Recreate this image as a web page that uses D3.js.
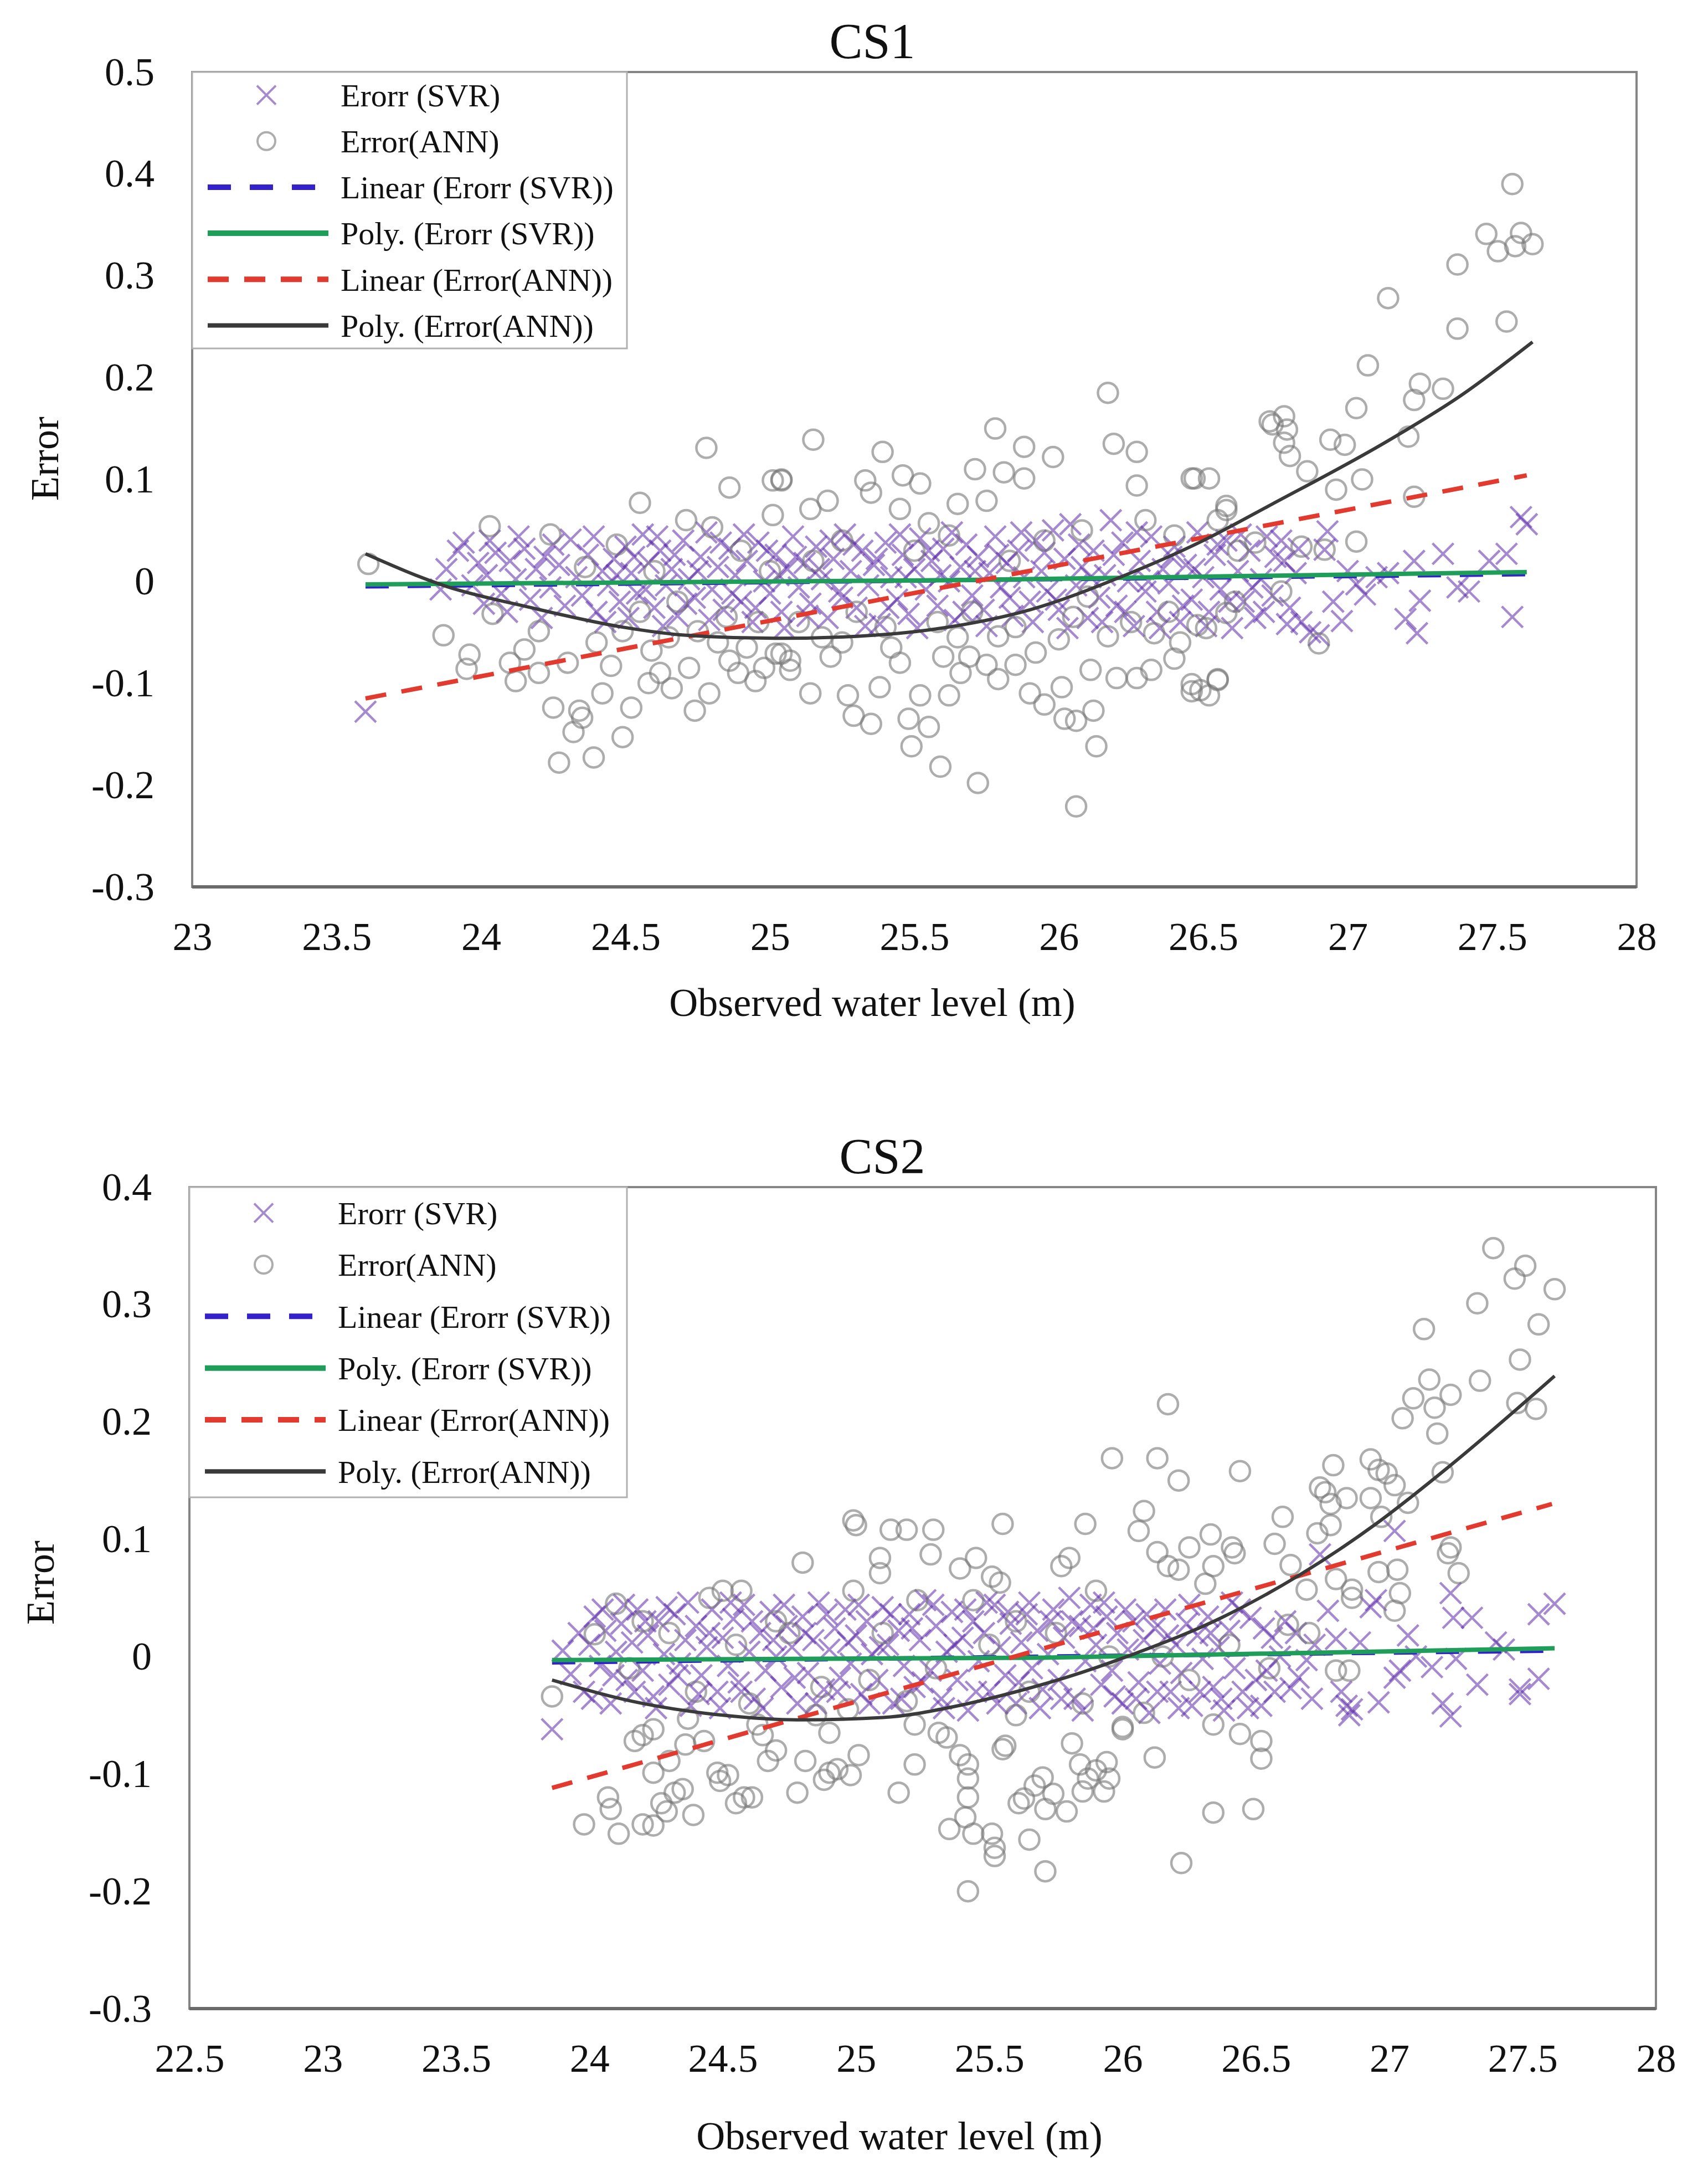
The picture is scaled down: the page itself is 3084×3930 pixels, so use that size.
<!DOCTYPE html>
<html>
<head>
<meta charset="utf-8">
<script src="https://cdn.jsdelivr.net/npm/d3@7"></script>
<style>
  html, body { margin: 0; padding: 0; background: #fff; }
  svg { display: block; font-family: 'Liberation Serif', 'Times New Roman', serif; }
</style>
</head>
<body>
<svg id="chart" width="3084" height="3930"></svg>
<script>
// ---- data ----
const legendLabels = ['Erorr (SVR)', 'Error(ANN)', 'Linear (Erorr (SVR))', 'Poly. (Erorr (SVR))', 'Linear (Error(ANN))', 'Poly. (Error(ANN))'];

const cs1XTicks = [23, 23.5, 24, 24.5, 25, 25.5, 26, 26.5, 27, 27.5, 28];
const cs1YTicks = [-0.3, -0.2, -0.1, 0, 0.1, 0.2, 0.3, 0.4, 0.5];
const cs2XTicks = [22.5, 23, 23.5, 24, 24.5, 25, 25.5, 26, 26.5, 27, 27.5, 28];
const cs2YTicks = [-0.3, -0.2, -0.1, 0, 0.1, 0.2, 0.3, 0.4];

const cs1Svr = [
  [23.60,-0.128],
  [23.86,-0.008],[23.88,0.012],[23.92,0.030],[23.94,0.038],[23.97,-0.004],[23.99,0.018],
  [24.02,0.006],[24.05,0.028],[24.07,-0.012],[24.10,0.020],[24.12,0.002],[24.15,0.032],[24.17,-0.018],[24.19,0.012],
  [24.22,0.024],[24.24,-0.006],[24.27,0.016],[24.29,-0.024],[24.31,0.041],[24.33,0.004],[24.35,-0.014],[24.37,0.026],
  [24.40,-0.030],[24.42,0.010],[24.44,-0.004],[24.46,0.022],[24.48,-0.020],
  [24.50,0.034],[24.52,0.008],[24.54,-0.012],[24.56,0.046],[24.58,0.018],[24.60,-0.026],[24.62,0.030],[24.64,-0.004],
  [24.66,0.012],[24.68,-0.034],[24.70,0.040],[24.72,0.002],[24.74,-0.016],[24.76,0.024],[24.78,0.048],[24.80,-0.008],
  [24.82,0.014],[24.84,-0.028],[24.86,0.032],[24.88,0.006],[24.90,-0.020],[24.92,0.020],[24.94,-0.040],[24.96,0.038],[24.98,0.000],
  [25.00,-0.012],[25.02,0.026],[25.04,-0.030],[25.06,0.012],[25.08,0.044],[25.10,-0.006],[25.12,0.018],[25.14,-0.022],
  [25.16,0.034],[25.18,0.002],[25.20,-0.036],[25.22,0.022],[25.24,-0.010],[25.26,0.046],[25.28,0.010],[25.30,-0.026],
  [25.32,0.030],[25.34,-0.004],[25.36,0.016],[25.38,-0.042],[25.40,0.038],[25.42,0.004],[25.44,-0.018],[25.46,0.026],[25.48,-0.032],
  [25.50,0.012],[25.52,0.042],[25.54,-0.008],[25.56,0.020],[25.58,-0.024],[25.60,0.032],[25.62,0.000],[25.64,-0.038],
  [25.66,0.014],[25.68,0.036],[25.70,-0.014],[25.72,0.024],[25.74,-0.028],[25.76,0.008],[25.78,0.044],[25.80,-0.006],
  [25.82,0.018],[25.84,-0.034],[25.86,0.030],[25.88,0.004],[25.90,-0.020],[25.92,0.040],[25.94,0.010],[25.96,-0.010],[25.98,0.050],
  [26.00,-0.028],[26.02,0.022],[26.04,0.056],[26.06,-0.004],[26.08,0.014],[26.10,-0.036],[26.12,0.030],[26.14,-0.016],
  [26.16,0.006],[26.18,0.060],[26.20,-0.024],[26.22,0.038],[26.24,0.000],[26.26,-0.044],[26.28,0.020],[26.30,-0.010],
  [26.32,0.044],[26.34,-0.030],[26.36,0.012],[26.38,-0.002],[26.40,0.034],[26.42,-0.040],[26.44,0.016],[26.46,-0.018],[26.48,0.048],
  [26.50,0.004],[26.52,-0.030],[26.54,0.026],[26.56,-0.008],[26.58,0.040],[26.60,-0.046],[26.62,0.010],[26.64,-0.020],
  [26.66,0.030],[26.68,-0.036],[26.70,0.002],[26.72,0.044],[26.74,-0.014],[26.77,0.040],[26.78,0.020],[26.80,-0.026],
  [26.82,0.008],[26.84,-0.040],[26.87,-0.050],[26.90,-0.053],[26.92,0.031],[26.93,0.049],[26.95,-0.020],[26.98,-0.039],
  [27.00,0.010],[27.03,-0.003],[27.06,-0.013],[27.10,0.004],[27.14,0.008],[27.20,-0.037],[27.23,0.020],[27.24,-0.051],
  [27.25,-0.019],[27.33,0.027],[27.38,-0.006],[27.42,-0.010],[27.49,0.020],[27.55,0.027],[27.57,-0.035],[27.60,0.063],[27.62,0.056],
  [24.01,-0.022],[24.03,0.040],[24.09,-0.030],[24.13,0.044],[24.21,-0.036],[24.25,0.036],[24.39,0.044],[24.43,-0.040],
  [24.47,0.006],[24.51,-0.036],[24.53,0.024],[24.57,-0.008],[24.61,0.044],[24.63,-0.044],[24.67,0.026],[24.71,-0.022],
  [24.75,0.010],[24.79,-0.038],[24.83,0.038],[24.87,-0.012],[24.91,0.046],[24.95,-0.026],[24.99,0.030],[25.03,0.006],
  [25.05,-0.046],[25.09,0.024],[25.13,-0.034],[25.17,0.012],[25.21,0.040],[25.25,-0.016],[25.29,0.036],[25.33,-0.044],
  [25.37,0.022],[25.41,-0.026],[25.45,0.046],[25.47,0.004],[25.51,-0.046],[25.55,0.030],[25.59,0.006],[25.63,0.048],
  [25.67,-0.030],[25.71,0.010],[25.75,-0.044],[25.79,0.026],[25.83,-0.016],[25.87,0.048],[25.91,-0.040],[25.95,0.028],
  [25.99,-0.018],[26.03,-0.046],[26.07,0.036],[26.11,0.004],[26.15,-0.040],[26.19,0.026],[26.23,-0.030],[26.27,0.048],
  [26.31,0.000],[26.35,-0.046],[26.39,0.024],[26.43,-0.024],[26.47,0.012],[26.51,-0.044],[26.55,0.036],[26.59,-0.020],
  [26.63,0.046],[26.67,-0.006],[26.71,-0.030],[26.75,0.024],[26.79,-0.042],[26.83,0.032]
];

const cs1Ann = [
  [23.61,0.017],[23.87,-0.053],[23.95,-0.086],[23.96,-0.072],[24.03,0.054],[24.04,-0.032],[24.10,-0.080],[24.12,-0.098],
  [24.15,-0.067],[24.20,-0.049],[24.24,0.046],[24.20,-0.090],[24.25,-0.124],[24.27,-0.178],[24.32,-0.148],[24.34,-0.127],
  [24.35,-0.134],[24.39,-0.173],[24.42,-0.110],[24.45,-0.083],[24.49,-0.153],[24.52,-0.124],[24.55,0.077],[24.36,0.014],
  [24.47,0.036],[24.49,-0.049],[24.59,-0.068],[24.62,-0.090],[24.71,0.060],[24.74,-0.127],[24.75,-0.049],[24.79,-0.110],
  [24.80,0.053],[24.86,0.092],[24.86,-0.078],[24.89,-0.090],[24.95,-0.098],[25.01,0.099],[25.04,0.099],[25.01,0.065],
  [25.04,-0.071],[25.07,-0.078],[24.78,0.131],
  [24.30,-0.080],[24.40,-0.060],[24.55,-0.030],[24.65,-0.055],[24.68,-0.020],[24.82,-0.060],[24.85,-0.035],[24.92,-0.065],
  [24.96,-0.040],[24.98,-0.085],[25.00,0.010],[24.60,0.010],[24.90,0.030],[24.72,-0.085],[24.58,-0.100],[24.66,-0.105],
  [25.15,0.139],[25.04,0.100],[25.39,0.127],[25.33,0.099],[25.46,0.104],[25.52,0.096],[25.45,0.071],[25.35,0.087],
  [25.20,0.079],[25.14,0.071],[25.65,0.076],[25.55,0.057],[25.75,0.079],[25.78,0.150],[25.71,0.110],[25.81,0.107],
  [25.88,0.132],[25.88,0.101],[25.98,0.122],[26.17,0.185],[26.19,0.135],[26.27,0.127],[26.27,0.094],[26.46,0.101],
  [26.52,0.101],[26.73,0.157],[26.58,0.074],
  [25.02,-0.071],[25.07,-0.087],[25.14,-0.110],[25.21,-0.074],[25.27,-0.112],[25.29,-0.132],[25.35,-0.140],[25.38,-0.104],
  [25.42,-0.065],[25.48,-0.135],[25.49,-0.162],[25.52,-0.112],[25.55,-0.143],[25.59,-0.182],[25.62,-0.112],[25.66,-0.090],
  [25.69,-0.074],[25.72,-0.198],[25.79,-0.096],[25.85,-0.082],[25.90,-0.110],[25.95,-0.121],[26.01,-0.104],[26.02,-0.135],
  [26.06,-0.137],[26.06,-0.221],[26.12,-0.127],[26.13,-0.162],[26.11,-0.087],[26.20,-0.095],[26.27,-0.095],[26.32,-0.087],
  [26.40,-0.076],[26.46,-0.101],[26.49,-0.107],[26.55,-0.096],[25.79,-0.054],[25.75,-0.082],[25.60,-0.074],[26.00,-0.057],
  [26.17,-0.054],[26.33,-0.051],[26.48,-0.043],
  [25.10,-0.040],[25.18,-0.055],[25.25,-0.060],[25.30,-0.030],[25.40,-0.045],[25.45,-0.080],[25.58,-0.040],[25.65,-0.055],
  [25.70,-0.030],[25.85,-0.045],[25.92,-0.070],[26.05,-0.035],[26.10,-0.015],[26.25,-0.040],[26.38,-0.030],[26.42,-0.060],
  [25.25,0.040],[25.50,0.030],[25.62,0.045],[25.95,0.040],[26.08,0.050],[26.30,0.060],[26.40,0.045],[26.55,0.060],
  [26.62,0.030],[25.15,0.020],[25.83,0.020],
  [27.57,0.390],[27.48,0.341],[27.52,0.324],[27.60,0.342],[27.58,0.329],[27.64,0.331],[27.38,0.311],[27.14,0.278],
  [27.38,0.248],[27.55,0.255],[27.07,0.212],[27.25,0.194],[27.23,0.178],[27.33,0.189],[27.03,0.170],[27.21,0.142],
  [26.78,0.162],[26.74,0.154],[26.79,0.149],[26.78,0.136],[26.80,0.123],[26.94,0.139],[26.99,0.134],[26.86,0.108],
  [27.05,0.100],[26.96,0.090],[27.23,0.083],[27.03,0.039],[26.47,0.101],[26.58,0.070],[26.90,-0.061],[26.55,-0.097],
  [26.52,-0.112],[26.46,-0.108],[26.68,0.038],[26.84,0.034],[26.61,-0.020],[26.58,-0.031],[26.51,-0.046],[26.77,-0.010],[26.92,0.031]
];

const cs1LinSvr = [[23.60,-0.005],[27.62,0.007]];
const cs1PolySvr = [[23.60,-0.003],[25.60,0.001],[27.62,0.009]];
const cs1LinAnn = [[23.60,-0.115],[27.62,0.104]];
const cs1PolyAnn = [
  [23.60,0.027],[23.88,-0.005],[24.16,-0.025],[24.49,-0.045],[24.71,-0.053],[25.02,-0.056],[25.30,-0.054],[25.57,-0.047],
  [25.90,-0.028],[26.23,0.006],[26.50,0.040],[26.74,0.076],[27.14,0.138],[27.39,0.182],[27.64,0.235]
];

const cs2Svr = [
  [23.86,-0.062],
  [23.90,0.005],[23.93,-0.015],[23.96,0.020],[23.98,-0.030],[24.00,0.010],[24.02,0.034],[24.04,-0.008],[24.06,0.022],
  [24.08,-0.040],[24.10,0.004],[24.12,0.028],[24.14,-0.020],[24.16,0.012],[24.18,0.040],[24.20,-0.012],[24.22,0.018],
  [24.24,-0.034],[24.26,0.030],[24.28,0.002],[24.30,-0.024],[24.32,0.036],[24.34,-0.006],[24.36,0.014],[24.38,-0.042],
  [24.40,0.026],[24.42,-0.016],[24.44,0.008],[24.46,0.040],[24.48,-0.030],
  [24.50,0.016],[24.52,-0.008],[24.54,0.032],[24.56,-0.022],[24.58,0.044],[24.60,0.004],[24.62,-0.036],[24.64,0.020],
  [24.66,-0.012],[24.68,0.038],[24.70,0.000],[24.72,-0.026],[24.74,0.026],[24.76,0.008],[24.78,-0.040],[24.80,0.034],
  [24.82,-0.014],[24.84,0.014],[24.86,0.046],[24.88,-0.028],[24.90,0.006],[24.92,0.024],[24.94,-0.018],[24.96,0.040],[24.98,-0.006],
  [25.00,0.018],[25.02,-0.032],[25.04,0.030],[25.06,0.002],[25.08,-0.020],[25.10,0.042],[25.12,0.010],[25.14,-0.040],
  [25.16,0.022],[25.18,-0.008],[25.20,0.036],[25.22,-0.026],[25.24,0.014],[25.26,0.048],[25.28,-0.012],[25.30,0.026],
  [25.32,-0.036],[25.34,0.004],[25.36,0.038],[25.38,-0.020],[25.40,0.016],[25.42,-0.046],[25.44,0.030],[25.46,-0.004],[25.48,0.020],
  [25.50,-0.030],[25.52,0.044],[25.54,0.008],[25.56,-0.016],[25.58,0.028],[25.60,-0.040],[25.62,0.012],[25.64,0.036],
  [25.66,-0.010],[25.68,0.022],[25.70,-0.028],[25.72,0.002],[25.74,0.040],[25.76,-0.020],[25.78,0.016],[25.80,0.050],
  [25.82,-0.036],[25.84,0.026],[25.86,-0.004],[25.88,0.044],[25.90,0.010],[25.92,-0.024],[25.94,0.034],[25.96,-0.012],[25.98,0.020],
  [26.00,-0.040],[26.02,0.006],[26.04,0.030],[26.06,-0.022],[26.08,0.014],[26.10,-0.048],[26.12,0.024],[26.14,-0.006],
  [26.16,0.040],[26.18,-0.030],[26.20,0.010],[26.22,-0.014],[26.24,0.028],[26.26,-0.042],[26.28,0.018],[26.30,-0.002],
  [26.32,0.034],[26.34,-0.026],[26.36,0.008],[26.38,-0.046],[26.40,0.022],[26.42,-0.010],[26.44,0.040],[26.45,-0.030],[26.48,0.033],
  [26.50,-0.020],[26.52,-0.042],[26.54,-0.012],[26.56,0.016],[26.59,0.000],[26.61,0.030],[26.63,-0.027],[26.66,-0.018],
  [26.69,-0.003],[26.72,0.010],[26.74,0.087],[26.77,0.039],[26.80,0.015],[26.82,-0.030],[26.84,-0.042],[26.85,-0.050],
  [26.86,-0.045],[26.89,0.012],[26.93,0.042],[26.95,0.048],[26.96,-0.039],
  [27.02,-0.018],[27.02,0.107],[27.04,-0.012],[27.07,0.018],[27.10,0.000],[27.16,-0.009],[27.20,-0.040],[27.23,-0.051],
  [27.23,0.054],[27.24,0.033],[27.25,-0.002],[27.31,0.033],[27.33,-0.024],[27.40,0.012],[27.43,0.006],[27.49,-0.028],
  [27.49,-0.032],[27.56,-0.019],[27.56,0.036],[27.62,0.045],
  [24.01,-0.036],[24.05,0.040],[24.09,-0.016],[24.13,0.044],[24.17,-0.030],[24.21,0.030],[24.25,-0.044],[24.29,0.042],
  [24.33,-0.016],[24.37,0.046],[24.41,-0.032],[24.45,0.020],[24.49,-0.044],[24.53,0.046],[24.57,-0.030],[24.61,0.030],
  [24.65,-0.044],[24.69,0.014],[24.73,0.044],[24.77,-0.018],[24.81,0.020],[24.85,-0.040],[24.89,0.036],[24.93,-0.030],
  [24.97,0.012],[25.01,0.044],[25.05,-0.040],[25.09,0.008],[25.13,0.036],[25.17,-0.036],[25.21,0.024],[25.25,-0.022],
  [25.29,0.044],[25.33,-0.044],[25.37,0.010],[25.41,0.040],[25.45,-0.030],[25.49,0.046],[25.53,-0.040],[25.57,0.038],
  [25.61,-0.022],[25.65,0.046],[25.69,-0.044],[25.73,0.030],[25.77,-0.036],[25.81,0.030],[25.85,-0.046],[25.89,0.024],
  [25.93,0.046],[25.97,-0.034],[26.01,0.040],[26.05,-0.036],[26.09,0.036],[26.13,-0.030],[26.17,0.018],[26.21,-0.044],
  [26.25,0.044],[26.29,-0.030],[26.33,0.020],[26.37,-0.036],[26.41,0.046],[26.47,-0.044],[26.53,0.024],[26.57,-0.030],
  [26.65,0.020],[26.71,-0.036]
];

const cs2Ann = [
  [23.86,-0.034],[24.10,0.045],[24.02,0.019],[23.98,-0.143],[24.08,-0.130],[24.11,-0.151],[24.07,-0.120],[24.20,-0.143],
  [24.24,-0.144],[24.29,-0.132],[24.32,-0.116],[24.35,-0.113],[24.27,-0.125],[24.39,-0.135],[24.20,-0.067],[24.24,-0.062],
  [24.17,-0.072],[24.30,-0.089],[24.24,-0.099],[24.37,-0.053],[24.36,-0.075],[24.43,-0.072],[24.48,-0.099],[24.49,-0.106],
  [24.52,-0.101],[24.58,-0.120],[24.55,-0.125],[24.61,-0.120],[24.45,0.050],[24.50,0.056],[24.57,0.056],[24.65,-0.067],
  [24.63,-0.058],[24.67,-0.089],[24.70,-0.080],[24.78,-0.116],[24.81,-0.089],[24.80,0.080],[24.90,-0.065],[24.90,-0.099],
  [24.88,-0.105],[24.93,-0.096],[24.98,-0.101],[25.01,-0.084],[24.99,0.116],[25.00,0.112],[25.13,0.108],[25.19,0.108],
  [25.29,0.108],[25.09,0.084],[25.09,0.071],[25.28,0.087],[25.39,0.075],[25.45,0.084],[25.55,0.113],[25.54,0.063],
  [25.51,0.068],[25.86,0.113],[25.77,0.077],[25.80,0.084],[24.99,0.056],[25.23,0.048],[25.44,0.048],[25.90,0.056],
  [25.16,-0.116],[25.22,-0.092],[25.42,-0.092],[25.42,-0.104],[25.42,-0.120],[25.35,-0.147],[25.41,-0.137],[25.44,-0.151],
  [25.42,-0.200],[25.51,-0.151],[25.52,-0.163],[25.52,-0.170],[25.65,-0.156],[25.71,-0.183],[25.61,-0.125],[25.63,-0.121],
  [25.71,-0.130],[25.70,-0.103],[25.67,-0.110],[25.74,-0.117],[25.79,-0.132],[25.85,-0.115],[25.84,-0.092],[25.87,-0.104],
  [25.90,-0.097],[25.93,-0.115],[25.95,-0.104],[25.55,-0.079],[25.56,-0.076],[25.60,-0.050],[25.31,-0.065],[25.34,-0.069],
  [25.39,-0.084],[25.81,-0.074],[26.00,-0.062],[25.19,-0.038],[25.22,-0.058],[24.87,-0.026],[24.97,-0.045],
  [24.15,-0.010],[24.30,0.020],[24.40,-0.030],[24.55,0.010],[24.60,-0.040],[24.75,0.020],[24.85,-0.050],[25.05,-0.020],
  [25.10,0.020],[25.30,-0.010],[25.50,0.010],[25.65,-0.030],[25.75,0.020],[25.85,-0.040],[25.95,0.000],[24.70,0.030],
  [24.20,0.030],[25.60,0.030],
  [27.39,0.348],[27.51,0.333],[27.47,0.322],[27.62,0.313],[27.33,0.301],[27.56,0.283],[27.13,0.279],[27.49,0.253],
  [27.34,0.235],[27.15,0.236],[27.23,0.223],[27.09,0.220],[27.17,0.212],[27.05,0.203],[27.18,0.190],[27.48,0.216],
  [27.55,0.211],[27.20,0.157],[26.17,0.215],[26.13,0.169],[26.21,0.150],[26.44,0.158],[25.96,0.169],[26.08,0.124],
  [26.06,0.107],[26.13,0.089],[26.17,0.077],[26.21,0.074],[26.25,0.093],[26.33,0.104],[26.34,0.077],[26.41,0.093],
  [26.42,0.088],[26.31,0.062],[26.60,0.119],[26.57,0.096],[26.63,0.078],[26.79,0.163],[26.74,0.144],[26.76,0.140],
  [26.78,0.130],[26.84,0.135],[26.78,0.112],[26.73,0.105],[26.93,0.168],[26.96,0.159],[26.99,0.156],[27.02,0.146],
  [26.93,0.135],[27.07,0.131],[26.97,0.119],[27.23,0.093],[27.22,0.088],[27.26,0.071],[26.80,0.066],[26.96,0.072],
  [27.03,0.074],[27.04,0.054],[27.02,0.039],[26.86,0.057],[26.86,0.050],[26.69,0.057],[26.62,0.027],[26.85,-0.012],
  [26.80,-0.012],[26.34,-0.058],[26.44,-0.066],[26.52,-0.072],[26.52,-0.087],[26.12,-0.086],[26.00,-0.060],[25.94,-0.090],
  [26.08,-0.048],[26.22,-0.176],[26.34,-0.133],[26.49,-0.130],[26.15,0.000],[26.25,-0.020],[26.40,0.010],[26.55,-0.010],[26.70,0.020]
];

const cs2LinSvr = [[23.86,-0.005],[27.62,0.005]];
const cs2PolySvr = [[23.86,-0.003],[25.70,-0.001],[27.62,0.007]];
const cs2LinAnn = [[23.86,-0.112],[27.61,0.130]];
const cs2PolyAnn = [
  [23.86,-0.020],[24.20,-0.040],[24.50,-0.050],[24.78,-0.054],[25.10,-0.052],[25.36,-0.043],[25.60,-0.030],[25.80,-0.017],
  [26.04,0.002],[26.37,0.033],[26.66,0.069],[26.95,0.113],[27.23,0.163],[27.62,0.239]
];

// ---- styling ----
const svrColor = '#5b2aa8';
const annColor = '#767676';
const trendStyles = [
  { color: '#3322cc', width: 8, dash: '42,34' },
  { color: '#1f9e5a', width: 8, dash: null },
  { color: '#e23a2e', width: 8, dash: '38,28' },
  { color: '#3a3a3a', width: 6, dash: null }
];

const panels = [
  {
    title: 'CS1', xDomain: [23, 28], yDomain: [-0.3, 0.5], xTicks: cs1XTicks, yTicks: cs1YTicks,
    svr: cs1Svr, ann: cs1Ann, trends: [cs1LinSvr, cs1PolySvr, cs1LinAnn, cs1PolyAnn],
    box: { left: 347, top: 130, right: 2955, bottom: 1601 }, legendBottom: 629,
    titlePos: [1575, 105], xTitlePos: [1575, 1834], yTitlePos: [105, 828]
  },
  {
    title: 'CS2', xDomain: [22.5, 28], yDomain: [-0.3, 0.4], xTicks: cs2XTicks, yTicks: cs2YTicks,
    svr: cs2Svr, ann: cs2Ann, trends: [cs2LinSvr, cs2PolySvr, cs2LinAnn, cs2PolyAnn],
    box: { left: 342, top: 2143, right: 2990, bottom: 3626 }, legendBottom: 2703,
    titlePos: [1593, 2118], xTitlePos: [1624, 3880], yTitlePos: [97, 2857]
  }
];

const svg = d3.select('#chart');
const fmt = d => String(+d.toFixed(1));

function crossPath(size) {
  const h = size / 2;
  return `M${-h},${-h}L${h},${h}M${-h},${h}L${h},${-h}`;
}

function drawPanel(p) {
  const { left, top, right, bottom } = p.box;
  const x = d3.scaleLinear().domain(p.xDomain).range([left, right]);
  const y = d3.scaleLinear().domain(p.yDomain).range([bottom, top]);
  const g = svg.append('g');

  // axes
  g.append('g')
    .attr('transform', `translate(${left},0)`)
    .call(d3.axisLeft(y).tickValues(p.yTicks).tickFormat(fmt).tickSize(0).tickPadding(68))
    .call(a => a.select('.domain').remove())
    .selectAll('text').attr('font-size', 72).attr('font-family', 'Liberation Serif').attr('fill', '#111');

  g.append('g')
    .attr('transform', `translate(0,${bottom})`)
    .call(d3.axisBottom(x).tickValues(p.xTicks).tickFormat(fmt).tickSize(0).tickPadding(63))
    .call(a => a.select('.domain').remove())
    .selectAll('text').attr('font-size', 72).attr('font-family', 'Liberation Serif').attr('fill', '#111');

  // frame
  g.append('rect')
    .attr('x', left).attr('y', top).attr('width', right - left).attr('height', bottom - top)
    .attr('fill', 'none').attr('stroke', '#858585').attr('stroke-width', 4);
  g.append('line')
    .attr('x1', left).attr('x2', right).attr('y1', bottom).attr('y2', bottom)
    .attr('stroke', '#6a6a6a').attr('stroke-width', 6);

  // SVR crosses
  g.append('g')
    .attr('stroke', svrColor).attr('stroke-opacity', 0.55).attr('stroke-width', 4.5).attr('fill', 'none')
    .selectAll('path')
    .data(p.svr)
    .join('path')
    .attr('transform', d => `translate(${x(d[0])},${y(d[1])})`)
    .attr('d', crossPath(38));

  // ANN circles
  g.append('g')
    .attr('stroke', annColor).attr('stroke-opacity', 0.6).attr('stroke-width', 4.5).attr('fill', 'none')
    .selectAll('circle')
    .data(p.ann)
    .join('circle')
    .attr('cx', d => x(d[0]))
    .attr('cy', d => y(d[1]))
    .attr('r', 18);

  // trendlines
  const line = d3.line().x(d => x(d[0])).y(d => y(d[1])).curve(d3.curveMonotoneX);
  p.trends.forEach((t, i) => {
    const s = trendStyles[i];
    g.append('path')
      .attr('d', line(t))
      .attr('fill', 'none')
      .attr('stroke', s.color)
      .attr('stroke-width', s.width)
      .attr('stroke-dasharray', s.dash);
  });

  // legend
  const lw = 1132 - left;
  const lh = p.legendBottom - top;
  const step = lh / legendLabels.length;
  const lg = g.append('g').attr('transform', `translate(${left},${top})`);
  lg.append('rect')
    .attr('width', lw).attr('height', lh)
    .attr('fill', '#fff').attr('stroke', '#b0b0b0').attr('stroke-width', 3);
  legendLabels.forEach((label, i) => {
    const cy = step * (i + 0.5);
    if (i === 0) {
      lg.append('path')
        .attr('transform', `translate(134,${cy})`)
        .attr('d', crossPath(34))
        .attr('stroke', svrColor).attr('stroke-opacity', 0.55).attr('stroke-width', 4).attr('fill', 'none');
    } else if (i === 1) {
      lg.append('circle')
        .attr('cx', 134).attr('cy', cy).attr('r', 16)
        .attr('stroke', annColor).attr('stroke-opacity', 0.6).attr('stroke-width', 4).attr('fill', 'none');
    } else {
      const s = trendStyles[i - 2];
      lg.append('line')
        .attr('x1', 28).attr('x2', 246).attr('y1', cy).attr('y2', cy)
        .attr('stroke', s.color).attr('stroke-width', s.width + 2)
        .attr('stroke-dasharray', s.dash);
    }
    lg.append('text')
      .attr('x', 268).attr('y', cy).attr('dy', '0.35em')
      .attr('font-size', 58).attr('fill', '#111')
      .text(label);
  });

  // titles
  g.append('text')
    .attr('x', p.titlePos[0]).attr('y', p.titlePos[1])
    .attr('text-anchor', 'middle').attr('font-size', 90).attr('fill', '#111')
    .text(p.title);
  g.append('text')
    .attr('x', p.xTitlePos[0]).attr('y', p.xTitlePos[1])
    .attr('text-anchor', 'middle').attr('font-size', 72).attr('fill', '#111')
    .text('Observed water level (m)');
  g.append('text')
    .attr('transform', `translate(${p.yTitlePos[0]},${p.yTitlePos[1]}) rotate(-90)`)
    .attr('text-anchor', 'middle').attr('font-size', 72).attr('fill', '#111')
    .text('Error');
}

panels.forEach(drawPanel);
</script>
</body>
</html>
